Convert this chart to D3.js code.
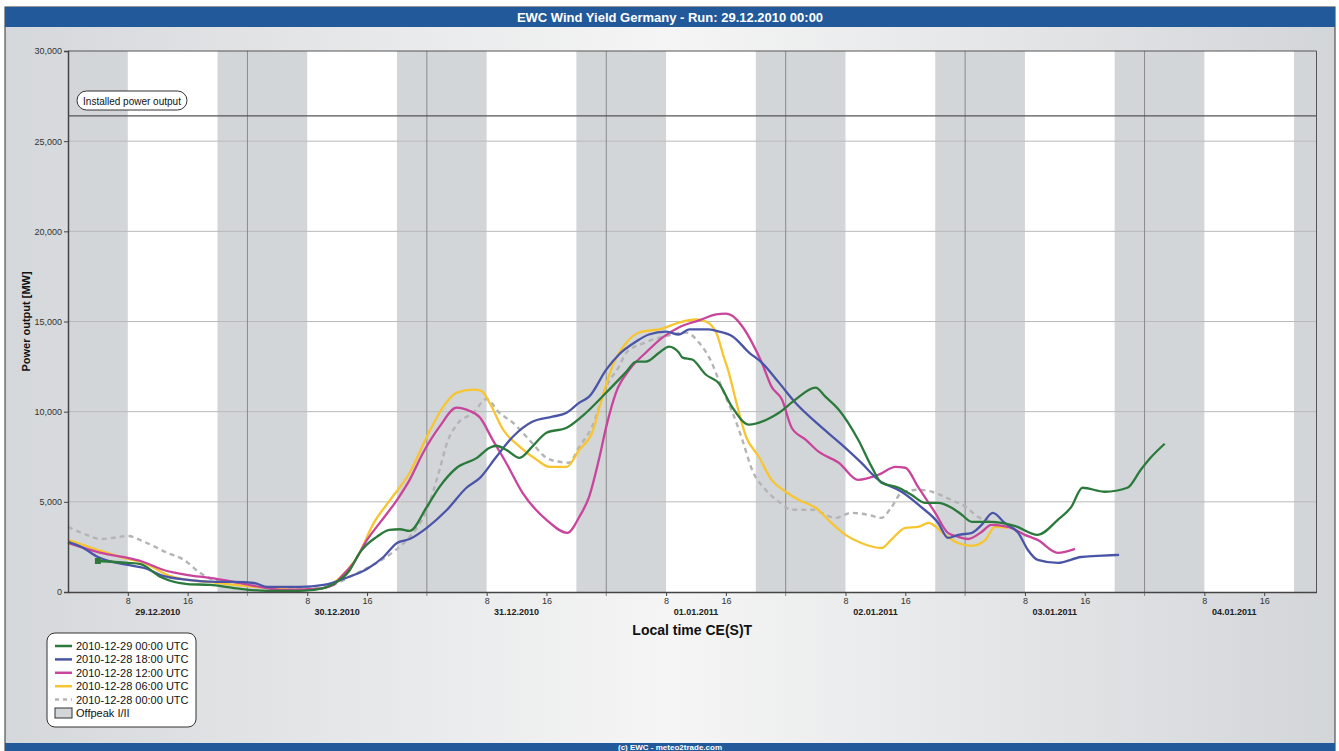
<!DOCTYPE html>
<html>
<head>
<meta charset="utf-8">
<script src="https://cdn.jsdelivr.net/npm/d3@7"></script>
<style>
  body { margin: 0; background: #fff; }
  svg { display: block; font-family: "Liberation Sans", Arial, sans-serif; }
</style>
</head>
<body>
<div id="chart"></div>
<script>
// hours since 29.12.2010 00:00 local time, value in MW
const runNames = [
    "2010-12-29 00:00 UTC",
    "2010-12-28 18:00 UTC",
    "2010-12-28 12:00 UTC",
    "2010-12-28 06:00 UTC",
    "2010-12-28 00:00 UTC"
];
const runColors = ["#2b7a3c", "#4b55a8", "#c8459b", "#f7c530", "#b4b4b4"];

const run29_00 = [[4,1720],[8,1610],[9.7,1550],[12.4,830],[16,440],[19,390],[22.2,220],[26.7,60],[31,60],[34.2,220],[35.5,440],[37.7,1220],[39,2170],[41.3,3060],[43,3450],[44.4,3480],[45.7,3390],[48,4720],[49.7,5830],[52,6890],[54.7,7440],[56.4,8000],[57.3,8110],[58.6,7890],[60.4,7440],[62.1,8060],[64,8830],[66.7,9110],[69.3,9940],[72,11060],[74.7,12220],[76,12780],[77.3,12780],[79.1,13280],[80.4,13610],[81.7,13280],[82.2,13000],[83.5,12890],[85.3,12060],[87.1,11550],[88.8,10280],[91.1,9280],[93.7,9610],[95.1,9940],[97.3,10670],[100,11330],[101.3,10830],[103.1,10110],[105.7,8440],[107.5,6940],[108.8,6060],[111.1,5780],[112.8,5390],[114.7,4940],[116.4,4940],[118.2,4670],[119.5,4300],[120.9,3890],[123.5,3890],[126.6,3670],[129.7,3170],[132.4,4000],[134.2,4720],[135.7,5780],[138.7,5560],[141.7,5780],[143.5,6780],[144.8,7440],[146.7,8220]];

const run28_18 = [[0,2780],[1.8,2500],[4,1940],[8,1500],[10.2,1330],[12.4,940],[16,670],[20,560],[22.2,560],[24.9,500],[26.7,280],[31,280],[34.2,390],[37.5,830],[40,1280],[42.2,1940],[44,2720],[45.7,2940],[48,3560],[50.7,4560],[53.3,5780],[55.1,6330],[57.3,7500],[59.5,8610],[62.1,9440],[64.8,9720],[66.7,9940],[68.4,10500],[69.7,10830],[72,12330],[73.7,13170],[76,13890],[77.7,14280],[80,14440],[81.7,14280],[83.1,14560],[85.7,14560],[87.1,14440],[88.9,14170],[91.1,13280],[92.8,12720],[95.1,11610],[97.3,10500],[100.4,9280],[103.5,8170],[106.1,7170],[108.4,6220],[111.5,5560],[114.1,4720],[116.4,3830],[117.7,3000],[119.1,3170],[120.9,3280],[122.2,3720],[123.7,4390],[125.3,3830],[127.1,3280],[128.4,2330],[129.7,1780],[132.4,1610],[135.5,1940],[137.7,2000],[140.6,2060]];

const run28_12 = [[0,2720],[4.4,2170],[8,1890],[9.7,1720],[12.8,1220],[16,940],[19,780],[22.2,560],[25.7,280],[28.8,110],[33.3,170],[35.5,390],[36.4,780],[38.2,1610],[40,2890],[41.7,3830],[44,5100],[45.7,6220],[47.5,7720],[49.7,9170],[52,10220],[53.3,10110],[55.1,9670],[56.8,8440],[58.6,7170],[60.8,5500],[64,4000],[66.8,3280],[68.4,4170],[69.7,5280],[71.1,7500],[72,9170],[73.3,11060],[75.1,12330],[77.3,13280],[79.5,14110],[81.7,14670],[84.4,15060],[86.7,15390],[88,15440],[88.8,15330],[90.2,14720],[91.5,13830],[92.8,12720],[94.1,11390],[95.5,10670],[96.8,9110],[98.7,8440],[100.4,7780],[103.1,7170],[105.7,6220],[108.4,6500],[110.7,6940],[112,6890],[113.7,5830],[116,4390],[117.7,3280],[119.1,3060],[120.4,2940],[122.2,3330],[123.5,3720],[125.7,3610],[128,3170],[129.7,2890],[132.4,2170],[134.7,2390]];

const run28_06 = [[0,2890],[4,2330],[8,1830],[10.2,1610],[13.3,940],[16,670],[18.7,560],[22.2,390],[26.7,220],[31,110],[34.2,220],[35.5,500],[37.7,1390],[38.7,1940],[40.9,3830],[43.1,5110],[45.7,6610],[48,8610],[50.2,10280],[52,11060],[54.2,11220],[55.3,11150],[56.4,10480],[58.2,9000],[60.4,8060],[62.7,7330],[64.4,6940],[66.7,6940],[68.4,7890],[70.1,8830],[71.5,10830],[72.8,12500],[74.7,13830],[76.4,14390],[79.5,14610],[81.7,14940],[84,15110],[85.3,15000],[86.7,14390],[87.7,13060],[88.3,12300],[89.3,10670],[90.7,8610],[92.4,7500],[94.1,6220],[96,5560],[97.7,5110],[100,4670],[102.1,3830],[104,3170],[106.1,2720],[108.8,2440],[110.1,2890],[112,3560],[113.7,3610],[115.1,3830],[117.3,3170],[119,2720],[120.9,2560],[122.7,2890],[124,3610],[125.7,3560]];

const run28_00 = [[0,3610],[2,3250],[4.4,2940],[6,3000],[8,3110],[10.1,2800],[13.3,2170],[15.5,1780],[17.7,1050],[19.5,670],[22,500],[26,300],[30,200],[34,250],[36,500],[38,900],[40,1330],[40.8,1500],[43.5,2220],[45.7,3060],[48,4560],[49.7,6780],[50.7,8280],[52,9280],[54.2,9940],[56,10700],[57.7,9940],[59.5,9390],[61.7,8440],[64,7440],[65.7,7220],[67,7170],[68.4,8060],[70.1,9170],[72,11390],[73.7,12500],[74.7,13280],[77,13800],[80,14200],[82.7,14390],[84.4,13830],[86.1,12720],[87,11800],[88.1,10700],[88.9,9940],[90.2,8440],[91.5,6780],[93.3,5670],[95.1,5000],[96.8,4560],[99.5,4560],[102.7,4110],[104.8,4390],[107,4280],[108.8,4110],[110.1,4670],[111.5,5500],[113.7,5670],[116,5500],[118.1,5110],[120.1,4720],[121.7,4170],[123.5,3900],[125,3700]];

const runSeries = [run29_00, run28_18, run28_12, run28_06, run28_00];

const yTicks = [0, 5000, 10000, 15000, 20000, 25000, 30000];
const installedPower = 26400;
const startTime = Date.UTC(2010, 11, 29, 0);
const endTime = Date.UTC(2011, 0, 4, 23);

const W = 1339, H = 751;
const plot = {left: 68, right: 1316.5, top: 51, bottom: 592};

const svg = d3.select("#chart").append("svg")
    .attr("width", W)
    .attr("height", H);

// background gradient of the panel
const defs = svg.append("defs");
const grad = defs.append("linearGradient").attr("id", "bg").attr("x1", 0).attr("x2", 1).attr("y1", 0).attr("y2", 0);
grad.append("stop").attr("offset", "0%").attr("stop-color", "#d5d8db");
grad.append("stop").attr("offset", "50%").attr("stop-color", "#f5f5f5");
grad.append("stop").attr("offset", "100%").attr("stop-color", "#d3d6d9");

svg.append("rect").attr("x", 5).attr("y", 7).attr("width", 1330).attr("height", 744)
    .attr("fill", "url(#bg)").attr("stroke", "#333");

// title + footer bars
svg.append("rect").attr("x", 5).attr("y", 7).attr("width", 1330).attr("height", 20).attr("fill", "#22599a");
svg.append("text").attr("x", 670).attr("y", 21.5)
    .attr("text-anchor", "middle")
    .attr("fill", "#fff")
    .style("font-family", "'Liberation Sans Narrow', 'Liberation Sans', Arial")
    .style("font-stretch", "condensed")
    .style("font-weight", "bold")
    .style("font-size", "13px")
    .text("EWC Wind Yield Germany - Run: 29.12.2010 00:00");

svg.append("rect").attr("x", 5).attr("y", 743).attr("width", 1330).attr("height", 8).attr("fill", "#22599a");
svg.append("text").attr("x", 670).attr("y", 750)
    .attr("text-anchor", "middle")
    .attr("fill", "#fff")
    .style("font-weight", "bold")
    .style("font-size", "8px")
    .text("(c) EWC - meteo2trade.com");

// scales
const x = d3.scaleUtc()
    .domain([startTime, endTime])
    .range([plot.left, plot.right]);
const y = d3.scaleLinear()
    .domain([0, 30000])
    .range([plot.bottom, plot.top]);
const hourToTime = h => startTime + h * 3600 * 1000;

const chart = svg.append("g");

chart.append("rect")
    .attr("x", plot.left).attr("y", plot.top)
    .attr("width", plot.right - plot.left).attr("height", plot.bottom - plot.top)
    .attr("fill", "#fff");

// offpeak bands 20:00 - 08:00
const days = d3.utcDay.range(d3.utcDay.offset(startTime, -1), endTime + 1);
const bands = days.map(d => [d3.utcHour.offset(d, 20), d3.utcHour.offset(d, 32)]);
chart.selectAll(".band")
    .data(bands)
    .join("rect")
    .attr("class", "band")
    .attr("x", d => x(Math.max(+d[0], startTime)))
    .attr("width", d => x(Math.min(+d[1], endTime)) - x(Math.max(+d[0], startTime)))
    .attr("y", plot.top)
    .attr("height", plot.bottom - plot.top)
    .attr("fill", "#d3d6d9");

// horizontal grid
chart.selectAll(".hgrid")
    .data(yTicks.slice(1, -1))
    .join("line")
    .attr("class", "hgrid")
    .attr("x1", plot.left).attr("x2", plot.right)
    .attr("y1", d => y(d)).attr("y2", d => y(d))
    .attr("stroke", "#b9b9b9");

// midnight lines
const midnights = d3.utcDay.range(d3.utcDay.offset(startTime, 1), endTime);
chart.selectAll(".vgrid")
    .data(midnights)
    .join("line")
    .attr("class", "vgrid")
    .attr("x1", d => x(d)).attr("x2", d => x(d))
    .attr("y1", plot.top).attr("y2", plot.bottom + 4)
    .attr("stroke", "#8a8a8a");

// installed power line
chart.append("line")
    .attr("x1", plot.left).attr("x2", plot.right)
    .attr("y1", y(installedPower)).attr("y2", y(installedPower))
    .attr("stroke", "#555").attr("stroke-width", 1.2);

// frame
chart.append("path")
    .attr("d", `M${plot.left},${plot.top}H${plot.right}V${plot.bottom}`)
    .attr("fill", "none").attr("stroke", "#555");

// lines
const line = d3.line()
    .x(d => x(hourToTime(d[0])))
    .y(d => y(d[1]))
    .curve(d3.curveMonotoneX);

const drawOrder = [4, 3, 2, 1, 0];
drawOrder.forEach(i => {
    chart.append("path")
        .datum(runSeries[i])
        .attr("d", line)
        .attr("fill", "none")
        .attr("stroke", runColors[i])
        .attr("stroke-width", i === 4 ? 2.4 : 2.3)
        .attr("stroke-dasharray", i === 4 ? "5,4" : null)
        .attr("stroke-linejoin", "round");
});
chart.append("rect")
    .attr("x", x(hourToTime(run29_00[0][0])) - 3)
    .attr("y", y(run29_00[0][1]) - 3)
    .attr("width", 6).attr("height", 6)
    .attr("fill", runColors[0]);

// axes
const yAxis = d3.axisLeft(y)
    .tickValues(yTicks)
    .tickFormat(d3.format(","))
    .tickSize(4)
    .tickPadding(2);
const yAxisG = svg.append("g")
    .attr("transform", `translate(${plot.left},0)`)
    .call(yAxis);

const hourTicks = [];
d3.utcDay.range(startTime, endTime).forEach(d => {
    hourTicks.push(d3.utcHour.offset(d, 8), d3.utcHour.offset(d, 16));
});
const xAxis = d3.axisBottom(x)
    .tickValues(hourTicks)
    .tickFormat(d3.utcFormat("%-H"))
    .tickSize(4)
    .tickSizeOuter(0)
    .tickPadding(2);
const xAxisG = svg.append("g")
    .attr("transform", `translate(0,${plot.bottom})`)
    .call(xAxis);

[yAxisG, xAxisG].forEach(g => {
    g.select(".domain").attr("stroke", "#444").attr("stroke-width", 1.5);
    g.selectAll(".tick line").attr("stroke", "#444");
    g.selectAll(".tick text").attr("fill", "#333").style("font-size", "9px").style("font-family", "'Liberation Sans', Arial");
});

// date labels at noon
svg.selectAll(".dateLabel")
    .data(d3.utcDay.range(startTime, endTime))
    .join("text")
    .attr("class", "dateLabel")
    .attr("x", d => x(d3.utcHour.offset(d, 12)))
    .attr("y", 615)
    .attr("text-anchor", "middle")
    .attr("fill", "#222")
    .style("font-size", "9px")
    .style("font-weight", "bold")
    .text(d3.utcFormat("%d.%m.%Y"));

// axis titles
svg.append("text")
    .attr("x", (plot.left + plot.right) / 2)
    .attr("y", 635)
    .attr("text-anchor", "middle")
    .attr("fill", "#111")
    .style("font-size", "14px")
    .style("font-weight", "bold")
    .text("Local time CE(S)T");

svg.append("text")
    .attr("transform", `translate(30,${(plot.top + plot.bottom) / 2}) rotate(-90)`)
    .attr("text-anchor", "middle")
    .attr("fill", "#111")
    .style("font-size", "11px")
    .style("font-weight", "bold")
    .text("Power output [MW]");

// installed power label
svg.append("rect")
    .attr("x", 77).attr("y", 91).attr("width", 110).attr("height", 19).attr("rx", 9.5)
    .attr("fill", "#fff").attr("stroke", "#333");
svg.append("text")
    .attr("x", 132).attr("y", 104.5)
    .attr("text-anchor", "middle")
    .attr("fill", "#111")
    .style("font-size", "10px")
    .text("Installed power output");

// legend
const legend = svg.append("g").attr("transform", "translate(47,633)");
legend.append("rect")
    .attr("width", 149).attr("height", 94).attr("rx", 8)
    .attr("fill", "#fff").attr("stroke", "#333");
const rows = legend.selectAll(".row")
    .data(runNames)
    .join("g")
    .attr("class", "row")
    .attr("transform", (d, i) => `translate(8,${13.4 * i + 13})`);
rows.append("line")
    .attr("x1", 0).attr("x2", 17)
    .attr("stroke", (d, i) => runColors[i])
    .attr("stroke-width", 2.5)
    .attr("stroke-dasharray", (d, i) => i === 4 ? "4,4" : null);
rows.append("text")
    .attr("x", 21).attr("y", 4)
    .attr("fill", "#111")
    .style("font-size", "11px")
    .text(d => d);
const off = legend.append("g").attr("transform", `translate(8,${13.4 * 5 + 13})`);
off.append("rect").attr("x", 0).attr("y", -5).attr("width", 17).attr("height", 10)
    .attr("fill", "#d3d6d9").attr("stroke", "#333");
off.append("text").attr("x", 21).attr("y", 4).attr("fill", "#111").style("font-size", "11px").text("Offpeak I/II");
</script>
</body>
</html>
